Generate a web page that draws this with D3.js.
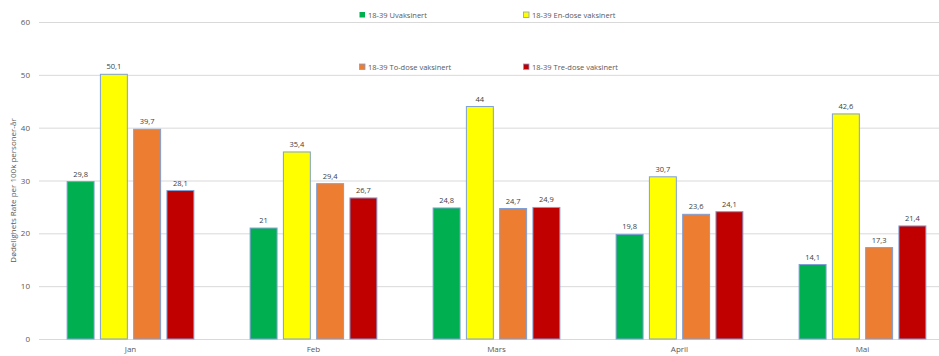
<!DOCTYPE html>
<html><head><meta charset="utf-8">
<script src="https://cdn.jsdelivr.net/npm/d3@7"></script>
<style>body{margin:0;background:#fff;} text{font-family:"Open Sans","Liberation Sans",sans-serif;}</style>
</head><body><svg id="c" width="939" height="356"></svg>
<script>
const categories = ["Jan","Feb","Mars","April","Mai"];
const seriesNames = ["18-39 Uvaksinert","18-39 En-dose vaksinert","18-39 To-dose vaksinert","18-39 Tre-dose vaksinert"];
const uvaksinert = [29.8, 21, 24.8, 19.8, 14.1];
const enDose = [50.1, 35.4, 44, 30.7, 42.6];
const toDose = [39.7, 29.4, 24.7, 23.6, 17.3];
const treDose = [28.1, 26.7, 24.9, 24.1, 21.4];
const yTicks = [0,10,20,30,40,50,60];
const colors = ["#00B050","#FFFF00","#ED7D31","#C00000"];
const yTitle = "Dødelighets Rate per 100k personer-år";

const series = [uvaksinert, enDose, toDose, treDose];
const svg = d3.select("#c");
const x0 = d3.scaleBand().domain(categories).range([39, 954]).paddingInner(0).paddingOuter(0);
const x1 = d3.scaleBand().domain(d3.range(4)).range([0, x0.bandwidth()]).paddingInner(0.19).paddingOuter(0.845);
const y = d3.scaleLinear().domain([0,60]).range([339, 22]);

// gridlines
svg.append("g").selectAll("line").data(yTicks).join("line")
  .attr("x1", 39).attr("x2", 939).attr("y1", d=>y(d)+0.5).attr("y2", d=>y(d)+0.5)
  .attr("stroke", "#d9d9d9").attr("stroke-width", 1);

// y tick labels
svg.append("g").selectAll("text").data(yTicks).join("text")
  .attr("x", 30).attr("y", d=>y(d)+3).attr("text-anchor","end")
  .attr("font-size", 8).attr("fill", "#595959").text(d=>d);

// y title
svg.append("text").attr("transform", `translate(16,${(y(0)+y(60))/2+10}) rotate(-90)`)
  .attr("text-anchor","middle").attr("font-size", 8).attr("fill","#595959").text(yTitle);

// x labels
svg.append("g").selectAll("text").data(categories).join("text")
  .attr("x", d=>x0(d)+x0.bandwidth()/2).attr("y", 352).attr("text-anchor","middle")
  .attr("font-size", 8).attr("fill","#595959").text(d=>d);

// bars
const fmt = v => String(v).replace(".", ",");
series.forEach((vals, si) => {
  const g = svg.append("g");
  g.selectAll("rect").data(vals).join("rect")
    .attr("x", (d,i)=>x0(categories[i]) + x1(si))
    .attr("y", d=>y(d))
    .attr("width", x1.bandwidth())
    .attr("height", d=>y(0)-y(d))
    .attr("fill", colors[si])
    .attr("stroke", "#7f9fd6").attr("stroke-width", 1);
  g.selectAll("text").data(vals).join("text")
    .attr("x", (d,i)=>x0(categories[i]) + x1(si) + x1.bandwidth()/2)
    .attr("y", d=>y(d)-5)
    .attr("text-anchor","middle").attr("font-size", 7.5).attr("fill","#404040")
    .text(d=>fmt(d));
});

// legend
const legPos = [[362,15],[526,15],[362,67],[526,67]];
seriesNames.forEach((n, i) => {
  const [lx, ly] = legPos[i];
  svg.append("rect").attr("x", lx-2.5).attr("y", ly-3).attr("width", 5.5).attr("height", 5.5)
    .attr("fill", colors[i]).attr("stroke", i===0 ? "none" : "#7f9fd6").attr("stroke-width", 0.8);
  svg.append("text").attr("x", lx+6).attr("y", ly+2.5).attr("font-size", 7.5).attr("fill","#595959").text(n);
});
</script></body></html>
